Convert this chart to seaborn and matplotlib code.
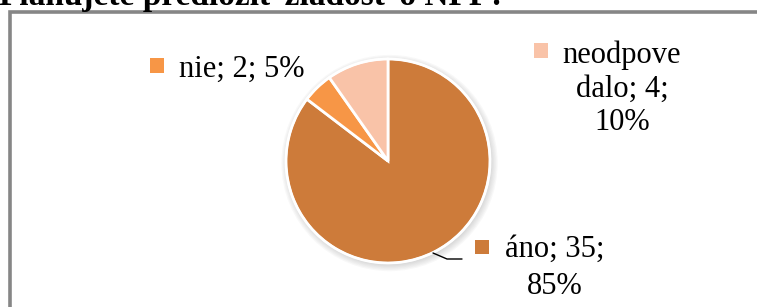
import matplotlib
matplotlib.use("Agg")
import matplotlib.pyplot as plt
import seaborn as sns
from matplotlib.patches import Rectangle, Circle
from matplotlib.lines import Line2D

# ---- data ----
title = "Plánujete predložiť žiadosť o NFP?"
categories = ["áno", "nie", "neodpovedalo"]
counts = [35, 2, 4]
percents = [85, 5, 10]
colors = ["#CD7B3A", "#F79646", "#F9C3A8"]

sns.set_theme(style="white")
plt.rcParams["font.family"] = ["Liberation Serif", "DejaVu Serif"]

W, H = 757, 307
fig = plt.figure(figsize=(W / 100, H / 100), dpi=100)
fig.patch.set_facecolor("white")


def fx(x):
    return x / W


def fy(y):
    return 1 - y / H


# frame (extends past the right and bottom edges)
fig.add_artist(Line2D([fx(9.5), fx(9.5), fx(770)], [fy(330), fy(11.5), fy(11.5)],
                      transform=fig.transFigure, color="#868686", lw=2.6,
                      solid_joinstyle="miter"))

# title (mostly cut off at the top)
fig.text(fx(-1), fy(5.5), title, fontsize=24, fontweight="bold", va="baseline",
         ha="left", color="black")

# pie
cx, cy, r = 388, 161, 102
pad = 1.12
ax = fig.add_axes([fx(cx - r * pad), fy(cy + r * pad), 2 * r * pad / W, 2 * r * pad / H])
for k in range(6):
    ax.add_patch(Circle((0.015, -0.02), 1.0 + 0.012 * k, color="#7f7f7f",
                        alpha=0.05, lw=0, zorder=0))
wedges, _ = ax.pie(counts, colors=colors, startangle=90, counterclock=False,
                   radius=1, wedgeprops=dict(edgecolor="white", linewidth=2))
for w in wedges:
    w.set_zorder(2)
ax.add_patch(Circle((0, 0), 1.0, fill=False, ec="white", lw=1.5, zorder=3))
ax.set_xlim(-pad, pad)
ax.set_ylim(-pad, pad)
ax.set_aspect("equal")
ax.axis("off")

fs = 22


def marker(xc, yc, color, s=14):
    fig.add_artist(Rectangle((fx(xc - s / 2), fy(yc + s / 2)), s / W, s / H,
                             transform=fig.transFigure, color=color, lw=0))


def lines(xc, ys, texts, ha="center"):
    for y, t in zip(ys, texts):
        fig.text(fx(xc), fy(y), t, fontsize=fs, ha=ha, va="baseline", color="black")


# labels
lab0 = f"{categories[0]}; {counts[0]};"
lab1 = f"{categories[1]}; {counts[1]}; {percents[1]}%"
cat2 = categories[2]
lab2 = [cat2[:8], f"{cat2[8:]}; {counts[2]};", f"{percents[2]}%"]

marker(156.5, 65.5, colors[1])
lines(179, [77], [lab1], ha="left")

marker(540.5, 50.5, colors[2])
lines(622, [63, 97, 130], lab2)

marker(482, 247, colors[0])
lines(555, [257, 294], [lab0, f"{percents[0]}%"])

# leader line for "áno"
fig.add_artist(Line2D([fx(433), fx(447), fx(462)], [fy(253), fy(259), fy(259)],
                      transform=fig.transFigure, color="black", lw=1))

fig.savefig("out.png", dpi=100, facecolor="white")
